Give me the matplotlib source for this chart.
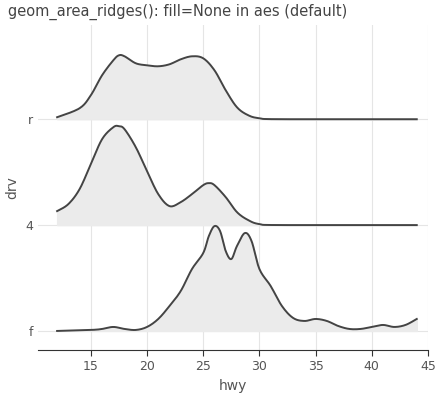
import matplotlib.pyplot as plt
import numpy as np

groups = ['f', '4', 'r']

r_x = [12, 14, 15, 16, 17, 17.5, 18, 19, 20, 21, 22, 23, 24, 25, 26, 27, 28, 29, 30, 32, 44]
r_h = [2, 11, 24, 44, 59, 64, 63, 56, 54, 53, 55, 60, 63, 61, 49, 29, 12, 4, 1, 0, 0]

d4_x = [12, 13, 14, 15, 16, 17, 17.5, 18, 19, 20, 21, 22, 23, 24, 25, 25.5, 26, 27, 28, 29, 30, 32, 44]
d4_h = [14, 21, 36, 61, 86, 98, 99, 96, 78, 54, 31, 19, 23, 31, 40, 42, 40, 28, 13, 5, 1, 0, 0]

f_x = [12, 15, 16, 17, 18, 19, 20, 21, 22, 23, 24, 25, 25.5, 26, 26.5, 27, 27.5, 28, 28.7, 29.3,
       30, 31, 32, 33, 34, 35, 36, 37, 38, 39, 40, 41, 42, 43, 44]
f_h = [0, 1, 2, 4, 2, 1, 4, 12, 25, 40, 62, 78, 95, 105, 100, 80, 72, 85, 98, 90,
       62, 45, 25, 13, 10, 12, 10, 5, 2, 2, 4, 6, 4, 6, 12]

curves = [(f_x, f_h), (d4_x, d4_h), (r_x, r_h)]


def smooth(xs, ys, n=12):
    # Catmull-Rom spline through the read points, just for drawing
    xs = np.asarray(xs, float)
    ys = np.asarray(ys, float)
    px = np.concatenate([[xs[0]], xs, [xs[-1]]])
    py = np.concatenate([[ys[0]], ys, [ys[-1]]])
    ox, oy = [], []
    for i in range(1, len(px) - 2):
        t = np.linspace(0, 1, n, endpoint=False)
        for p, o in ((px, ox), (py, oy)):
            p0, p1, p2, p3 = p[i - 1], p[i], p[i + 1], p[i + 2]
            o.extend(0.5 * (2 * p1 + (-p0 + p2) * t + (2 * p0 - 5 * p1 + 4 * p2 - p3) * t ** 2
                            + (-p0 + 3 * p1 - 3 * p2 + p3) * t ** 3))
    ox.append(xs[-1])
    oy.append(ys[-1])
    return np.array(ox), np.clip(np.array(oy), 0, None)


fig = plt.figure(figsize=(4.48, 4.0), dpi=100)
ax = fig.add_axes([38 / 448, 50 / 400, 390 / 448, 325 / 400])

for i, (xs, hs) in enumerate(curves):
    sx, sh = smooth(xs, hs)
    ys = i + sh / 106.0
    ax.fill_between(sx, i, ys, color='#ebebeb', zorder=2 + (2 - i) * 2)
    ax.plot(sx, ys, color='#444444', lw=1.4, zorder=3 + (2 - i) * 2)

ax.set_xlim(10.3, 44.8)
ax.set_ylim(-0.18, 2.89)
ax.set_xticks([15, 20, 25, 30, 35, 40, 45])
ax.set_yticks([0, 1, 2])
ax.set_yticklabels(groups)
ax.grid(True, color='#e5e5e5', lw=0.8, zorder=0)
ax.set_axisbelow(True)
for s in ['top', 'right', 'left']:
    ax.spines[s].set_visible(False)
ax.spines['bottom'].set_color('#333333')
ax.tick_params(axis='both', colors='#555555', labelsize=9, length=0)
ax.tick_params(axis='x', length=4, color='#333333')
ax.set_xlabel('hwy', color='#555555', fontsize=10)
ax.set_ylabel('drv', color='#555555', fontsize=10)
fig.text(8 / 448, 1 - 12 / 400, 'geom_area_ridges(): fill=None in aes (default)',
         fontsize=10.5, color='#444444', va='center')

fig.savefig('out.png', dpi=100)
